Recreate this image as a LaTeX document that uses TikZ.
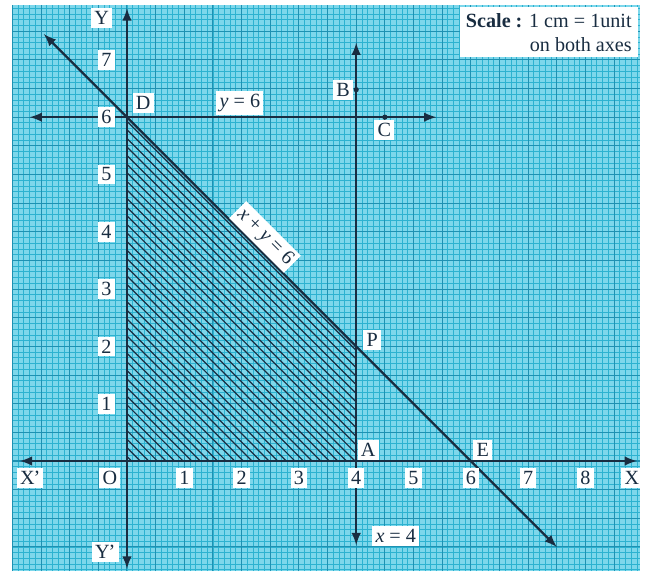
\documentclass[tikz,border=0pt]{standalone}
\usepackage{fontspec}
\setmainfont{Liberation Serif}
\definecolor{paperbg}{RGB}{125,215,235}
\definecolor{finegrid}{RGB}{45,178,208}
\definecolor{midgrid}{RGB}{30,145,178}
\definecolor{inkline}{RGB}{25,45,65}
\tikzset{
  lbl/.style={fill=white, inner sep=1.6pt, text=inkline},
  axisline/.style={inkline, line width=1.1pt, <->, >=latex},
  pt/.style={circle, fill=inkline, inner sep=0pt, minimum size=2.6pt},
}

\begin{document}
\begin{tikzpicture}
    \useasboundingbox (-2.216,-2.024) rectangle (9.04,8.045);
    \fill[paperbg] (-2.0,-1.92) rectangle (8.95,7.96);
    \draw[step=0.1, finegrid, line width=0.4pt] (-2.0,-1.92) grid (8.95,7.96);
    \draw[step=0.5, midgrid, line width=0.5pt] (-2.0,-1.92) grid (8.95,7.96);

    \begin{scope}
        \clip (0,0) -- (4,0) -- (4,2) -- (0,6) -- cycle;
        \foreach \c in {0.08,0.23,...,6.2}
            \draw[inkline, line width=0.6pt] (-1,\c+1) -- (\c+1,-1);
    \end{scope}

    \coordinate (xl) at (-1.87,0);
    \coordinate (xr) at (8.9,0);
    \coordinate (yb) at (0,-1.88);
    \coordinate (yt) at (0,7.9);
    \coordinate (sl) at (-1.45,7.45);
    \coordinate (sr) at (7.5,-1.5);
    \coordinate (hl) at (-1.7,6);
    \coordinate (hr) at (5.4,6);
    \coordinate (vt) at (4,7.3);
    \coordinate (vb) at (4,-1.47);

    \draw[axisline] (xl) -- (xr);
    \draw[axisline] (yb) -- (yt);
    \draw[axisline] (sl) -- (sr);
    \draw[axisline] (hl) -- (hr);
    \draw[axisline] (vt) -- (vb);

    \node[pt] (b) at (4,6.48) {};
    \node[pt] (c) at (4.5,6) {};

    \foreach \x in {1,...,8}
        \node[lbl] (xn\x) at (\x,-0.3) {\x};
    \foreach \y in {1,...,7}
        \node[lbl] (yn\y) at (-0.36,\y) {\y};

    \node[lbl] (xx) at (-1.69,-0.3) {X\kern-0.5pt'};
    \node[lbl] (xo) at (-0.3,-0.3) {O};
    \node[lbl] (xa) at (8.81,-0.3) {X};
    \node[lbl] (ya) at (-0.44,7.73) {Y};
    \node[lbl] (yy) at (-0.38,-1.59) {Y\kern-0.5pt'};

    \node[lbl] (d) at (0.28,6.25) {D};
    \node[lbl] (bl) at (3.77,6.47) {B};
    \node[lbl] (cl) at (4.49,5.78) {C};
    \node[lbl] (p) at (4.28,2.11) {P};
    \node[lbl] (a) at (4.21,0.19) {A};
    \node[lbl] (e) at (6.21,0.19) {E};

    \node[lbl] (hy) at (1.97,6.25) {\textit{y} = 6};
    \node[lbl] (vx) at (4.69,-1.31) {\textit{x} = 4};
    \node[lbl, rotate=-45] (sxy) at (2.41,3.91) {\textit{x} + \textit{y} = 6};

    \node[lbl, align=right, inner sep=3pt, anchor=north east] (scale) at (8.92,7.93)
        {\textbf{Scale :} 1 cm = 1unit\\ on both axes};
\end{tikzpicture}
\end{document}
